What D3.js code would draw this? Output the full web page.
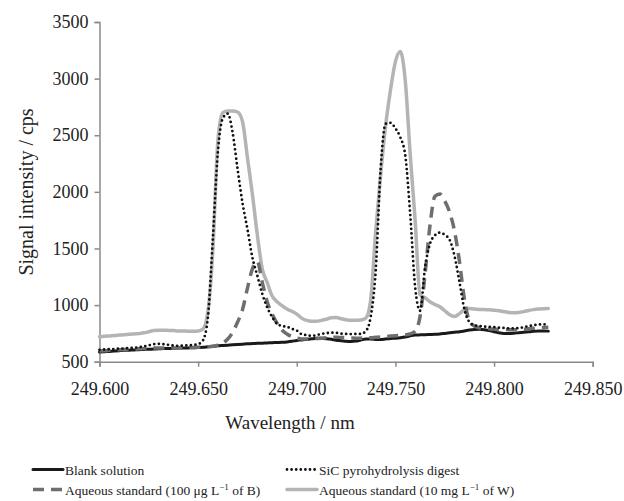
<!DOCTYPE html>
<html>
<head>
<meta charset="utf-8">
<script src="https://cdn.jsdelivr.net/npm/d3@7"></script>
<style>
  body { margin: 0; background: #fff; }
  svg { font-family: "Liberation Serif", "Times New Roman", serif; }
</style>
</head>
<body>
<svg width="624" height="501"></svg>
<script>
// wavelength grid (nm), step 0.0025
var wavelength = d3.range(92).map(function(i) { return 249.6 + i * 0.0025; });

// Blank solution
var blank = [585, 588, 591, 594, 597, 600, 602, 604, 606, 608, 610,
  612, 614, 616, 617, 618, 620, 621, 622, 623, 625,
  628, 632, 636, 640, 643, 646, 649, 652, 655, 658,
  660, 662, 664, 666, 668, 670, 672, 675, 680, 688,
  692, 697, 702, 706, 706, 703, 698, 690, 686, 680,
  678, 682, 692, 700, 700, 697, 695, 700, 705, 708,
  712, 718, 728, 735, 737, 738, 740, 742, 745, 750,
  755, 760, 765, 772, 780, 785, 786, 783, 775, 765,
  755, 750, 750, 752, 756, 760, 764, 768, 771, 772, 770];

// SiC pyrohydrolysis digest
var sic = [605, 608, 610, 612, 615, 617, 620, 622, 628, 635, 645,
  655, 658, 655, 648, 642, 640, 642, 645, 648, 655,
  690, 900, 1600, 2350, 2650, 2690, 2520, 2200, 1900, 1670,
  1420, 1260, 1100, 980, 895, 835, 815, 808, 790, 775,
  742, 735, 728, 735, 745, 752, 756, 755, 748, 745,
  744, 745, 745, 770, 900, 1300, 2200, 2600, 2610, 2560,
  2480, 2320, 1800, 1160, 950, 1330, 1540, 1615, 1640, 1620,
  1575, 1430, 1200, 960, 850, 822, 815, 810, 808, 805,
  800, 798, 795, 795, 797, 805, 815, 822, 828, 830, 828];

// Aqueous standard (100 ug/L of B)
var stdB = [595, 597, 600, 603, 606, 608, 610, 612, 614, 616, 618,
  620, 620, 620, 620, 620, 620, 622, 624, 626, 628,
  630, 632, 636, 645, 665, 700, 760, 850, 960, 1150,
  1320, 1385, 1200, 1030, 920, 840, 780, 745, 722, 708,
  700, 700, 702, 705, 708, 712, 715, 716, 714, 712,
  710, 708, 708, 710, 712, 715, 718, 722, 726, 730,
  733, 737, 745, 770, 900, 1270, 1700, 1960, 1980, 1920,
  1820, 1650, 1380, 1050, 860, 815, 800, 795, 790, 788,
  785, 785, 783, 782, 783, 785, 790, 795, 800, 803, 805];

// Aqueous standard (10 mg/L of W)
var stdW = [721, 725, 728, 732, 735, 738, 742, 745, 748, 755, 765,
  775, 778, 778, 776, 775, 772, 772, 770, 770, 772,
  790, 950, 1500, 2450, 2700, 2715, 2715, 2705, 2620, 2300,
  1980, 1620, 1320, 1200, 1080, 1030, 995, 965, 945, 920,
  885, 865, 858, 858, 865, 875, 888, 890, 880, 870,
  865, 866, 868, 885, 1050, 1650, 2150, 2580, 2900, 3150,
  3240, 2980, 2330, 1750, 1090, 1065, 1030, 1005, 985, 950,
  915, 900, 925, 960, 970, 965, 962, 960, 958, 955,
  950, 942, 935, 932, 935, 942, 952, 960, 965, 968, 970];

var xTicks = [249.60, 249.65, 249.70, 249.75, 249.80, 249.85];
var yTicks = [500, 1000, 1500, 2000, 2500, 3000, 3500];

var svg = d3.select('svg');
var plot = {l: 99.5, r: 592.7, t: 22, b: 361.7};

var xScale = d3.scaleLinear().domain([249.60, 249.85]).range([plot.l, plot.r]);
var yScale = d3.scaleLinear().domain([500, 3500]).range([plot.b, plot.t]);

var axisColor = '#8a8a8a';
var serif = '"Liberation Serif", "Times New Roman", serif';

// x axis
var xAxis = svg.append('g')
    .attr('transform', 'translate(0,' + plot.b + ')')
    .call(d3.axisBottom(xScale).tickValues(xTicks).tickSize(5).tickPadding(16)
      .tickFormat(d3.format('.3f')));

// y axis
var yAxis = svg.append('g')
    .attr('transform', 'translate(' + plot.l + ',0)')
    .call(d3.axisLeft(yScale).tickValues(yTicks).tickSize(5).tickPadding(6)
      .tickFormat(d3.format('d')));

[xAxis, yAxis].forEach(function(a) {
  a.attr('font-family', serif).attr('font-size', 18);
  a.select('.domain').attr('stroke', axisColor).attr('stroke-width', 1.5);
  a.selectAll('.tick line').attr('stroke', axisColor).attr('stroke-width', 1.5);
  a.selectAll('.tick text')
      .attr('fill', '#222')
      .style('font-family', serif)
      .style('font-size', '18px');
});

// axis titles
svg.append('text')
    .attr('x', 290).attr('y', 429)
    .attr('text-anchor', 'middle')
    .style('font-size', '19px').attr('fill', '#222')
    .text('Wavelength / nm');

svg.append('text')
    .attr('transform', 'translate(33,192) rotate(-90)')
    .attr('text-anchor', 'middle')
    .style('font-size', '20px').attr('fill', '#222')
    .text('Signal intensity / cps');

var series = [
  {name: 'W', values: stdW, color: '#b4b4b4', width: 3.5, dash: null, cap: 'round'},
  {name: 'blank', values: blank, color: '#1a1a1a', width: 3, dash: null, cap: 'round'},
  {name: 'B', values: stdB, color: '#6e6e6e', width: 3.5, dash: '11,7', cap: 'butt'},
  {name: 'SiC', values: sic, color: '#111', width: 2.8, dash: '0,4.6', cap: 'round'}
];

var line = d3.line()
    .x(function(d) { return xScale(d[0]); })
    .y(function(d) { return yScale(d[1]); })
    .curve(d3.curveMonotoneX);

series.forEach(function(s) {
  svg.append('path')
      .datum(wavelength.map(function(w, i) { return [w, s.values[i]]; }))
      .attr('d', line)
      .attr('fill', 'none')
      .attr('stroke', s.color)
      .attr('stroke-width', s.width)
      .attr('stroke-linecap', s.cap)
      .attr('stroke-linejoin', 'round')
      .attr('stroke-dasharray', s.dash);
});

// legend
var legendItems = [
  {x: 33, y: 469.5, s: series[1], label: 'Blank solution'},
  {x: 287, y: 469.5, s: series[3], label: 'SiC pyrohydrolysis digest'},
  {x: 33, y: 489.5, s: series[2], label: 'Aqueous standard (100 \u03bcg L', sup: '\u22121', tail: ' of B)'},
  {x: 287, y: 489.5, s: series[0], label: 'Aqueous standard (10 mg L', sup: '\u22121', tail: ' of W)'}
];

legendItems.forEach(function(d) {
  svg.append('line')
      .attr('x1', d.x).attr('x2', d.x + 30)
      .attr('y1', d.y).attr('y2', d.y)
      .attr('stroke', d.s.color)
      .attr('stroke-width', d.s.width)
      .attr('stroke-linecap', d.s.cap)
      .attr('stroke-dasharray', d.s.dash);
  var t = svg.append('text')
      .attr('x', d.x + 32).attr('y', d.y + 5)
      .style('font-size', '13.5px').attr('fill', '#222')
      .text(d.label);
  if (d.sup) {
    t.append('tspan').attr('dy', -5).style('font-size', '9px').text(d.sup);
    t.append('tspan').attr('dy', 5).text(d.tail);
  }
});
</script>
</body>
</html>
